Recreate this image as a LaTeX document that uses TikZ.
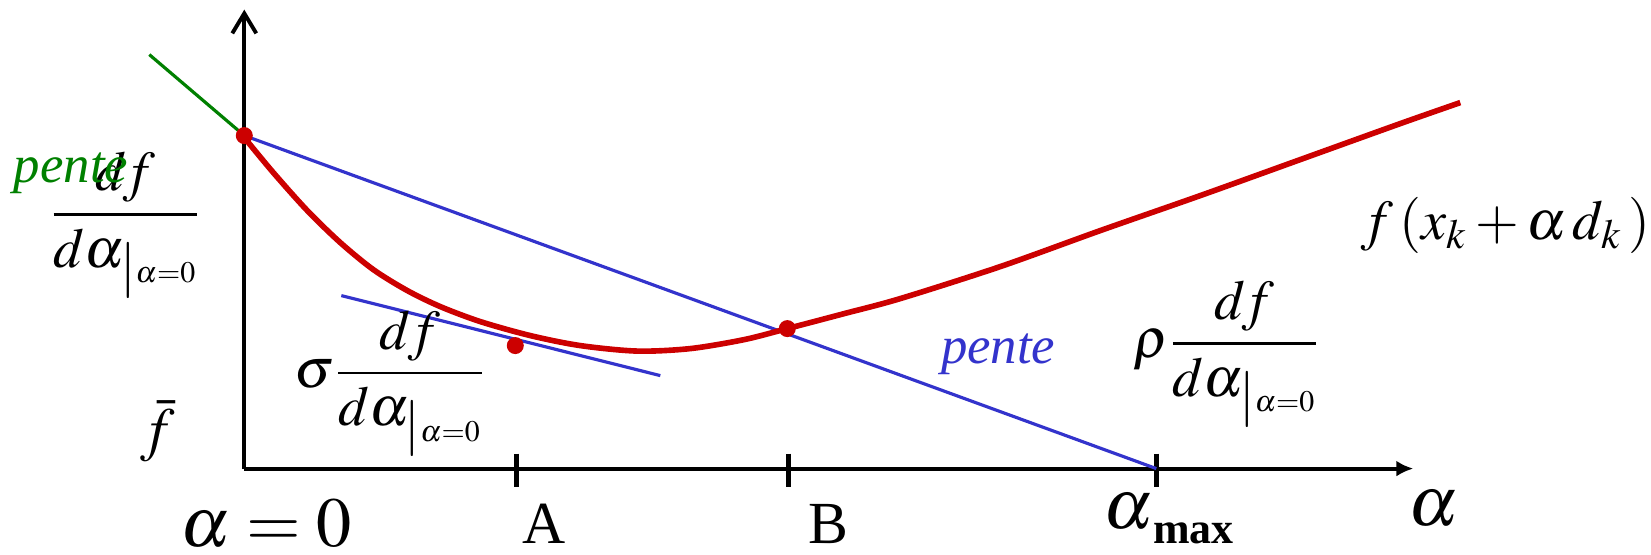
\documentclass[tikz,border=0pt]{standalone}
\usepackage{mathptmx}
\usepackage[no-math]{fontspec}
\setmainfont{Liberation Serif}
\usetikzlibrary{arrows.meta}
\definecolor{fred}{RGB}{204,0,0}
\definecolor{pblue}{RGB}{51,51,204}
\definecolor{pgreen}{RGB}{0,128,0}
\tikzset{
  axis/.style={line width=1.1pt},
  tick/.style={line width=1.5pt},
  slope/.style={line width=0.9pt},
  lbl/.style={inner sep=0pt,font=\fontsize{17}{20}\selectfont},
  glbl/.style={inner sep=0pt,font=\fontsize{20}{24}\selectfont},
  frac/.style={inner sep=0pt,font=\fontsize{16}{19}\selectfont},
  pente/.style={inner sep=0pt,font=\fontsize{15}{18}\selectfont\itshape},
  pt/.style={fill=fred},
}
\newcommand{\dfzero}{\displaystyle\frac{d\mkern-1mu f}{d\alpha_{\smash{\lower2.5pt\hbox{$|$}}\lower2pt\hbox{\fontsize{8.5}{10}\selectfont$\alpha{=}0$}}}}
\begin{document}
\begin{tikzpicture}
\useasboundingbox (-2.443,-0.864) rectangle (14.067,4.686);
% axes
\coordinate (O) at (0,0);
\draw[axis,-{Straight Barb[length=0.2cm,width=0.24cm]}] (O) -- (0,4.59);
\draw[axis,-{Latex[length=0.17cm,width=0.16cm]}] (O) -- (11.69,0);
\foreach \x/\n in {2.72/A,5.44/B,9.12/M}{
  \coordinate (t\n) at (\x,0);
  \draw[tick] ([yshift=0.15cm]t\n) -- ([yshift=-0.18cm]t\n);
}
\coordinate (P0) at (0,3.33);
\coordinate (PA) at (2.71,1.23);
\coordinate (PB) at (5.43,1.40);
\coordinate (G0) at (-0.95,4.14);
\coordinate (T0) at (0.97,1.73);
\coordinate (T1) at (4.16,0.93);
% slopes
\draw[slope,pgreen] (G0) -- (P0);
\draw[slope,pblue] (P0) -- (tM);
\draw[slope,pblue] (T0) -- (T1);
% the function
\draw[fred,line width=1.6pt] plot[smooth,tension=0.5] coordinates {(0,3.31) (0.29,2.96) (0.63,2.58) (0.96,2.26) (1.29,1.99) (1.63,1.78) (1.96,1.62) (2.36,1.47) (2.86,1.33) (3.36,1.23) (3.93,1.175) (4.46,1.20) (5.0,1.29) (5.43,1.40) (6.0,1.55) (6.56,1.70) (7.56,2.02) (8.56,2.38) (9.56,2.73) (10.56,3.09) (11.56,3.45) (12.16,3.66)};
\foreach \p in {P0,PA,PB} \fill[pt] (\p) circle (0.085);
% labels
\node[glbl,anchor=base] (a0) at (0.22,-0.78) {$\alpha=0$};
\node[lbl,anchor=base] (lA) at (3.00,-0.75) {A};
\node[lbl,anchor=base] (lB) at (5.84,-0.75) {B};
\node[inner sep=0pt,anchor=base west] (amax) at (8.58,-0.60) {\fontsize{20}{24}\selectfont$\alpha$\raisebox{-0.15cm}{\fontsize{12.5}{15}\selectfont\bfseries max}};
\node[glbl,anchor=base west] (aax) at (11.63,-0.57) {$\alpha$};
\node[lbl,anchor=base] (fbar) at (-0.87,0.19) {$\bar f$};
\node[frac,anchor=base] (d0) at (-1.19,2.40) {$\dfzero$};
\node[pente,pgreen,anchor=base west] (pg) at (-2.31,2.86) {pente};
\node[frac,anchor=base west] (ds) at (0.49,0.815) {$\sigma\dfzero$};
\node[pente,pblue,anchor=base west] (pb) at (6.96,1.05) {pente};
\node[frac,anchor=base west] (dr) at (8.88,1.11) {$\rho\dfzero$};
\node[frac,anchor=base west] (fx) at (11.16,2.29) {$f\,(x_k+\alpha\,d_k\,)$};
\end{tikzpicture}
\end{document}
